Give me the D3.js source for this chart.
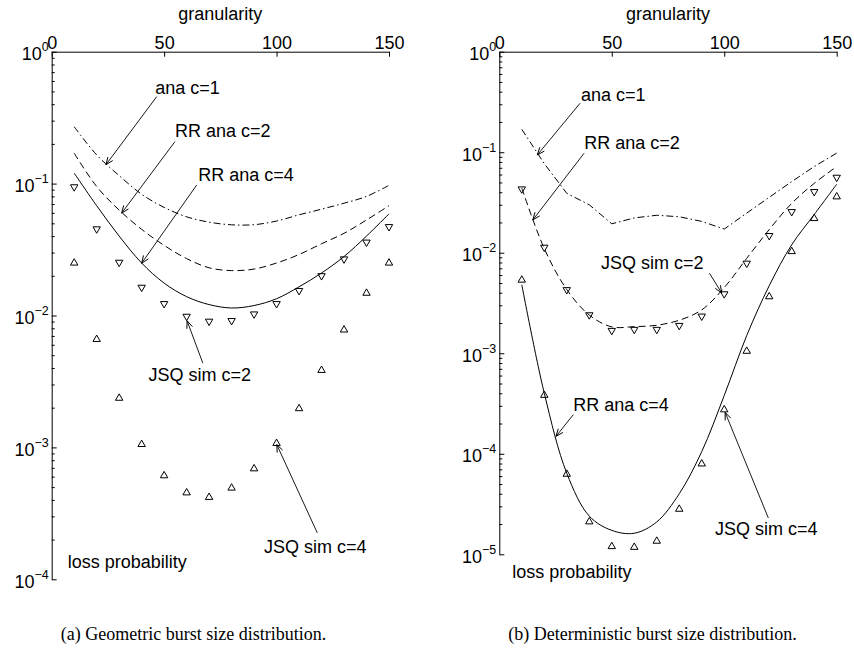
<!DOCTYPE html>
<html>
<head>
<meta charset="utf-8">
<script src="https://cdnjs.cloudflare.com/ajax/libs/d3/7.8.5/d3.min.js"></script>
<style>
body { margin: 0; background: #fff; }
svg text { font-family: "Liberation Sans", Arial, sans-serif; fill: #000; }
</style>
</head>
<body>
<svg id="chart" width="854" height="650"></svg>
<script>
// granularity values shared by every series
var granularity = [10, 20, 30, 40, 50, 60, 70, 80, 90, 100, 110, 120, 130, 140, 150];
var xTicks = [0, 50, 100, 150];

// (a) geometric burst size distribution
var geoAnaC1   = [0.27, 0.165, 0.115, 0.083, 0.066, 0.056, 0.051, 0.0487, 0.0488, 0.052, 0.058, 0.064, 0.071, 0.080, 0.097];
var geoRRAnaC2 = [0.17, 0.095, 0.063, 0.045, 0.034, 0.027, 0.023, 0.0219, 0.0225, 0.025, 0.029, 0.035, 0.042, 0.053, 0.068];
var geoRRAnaC4 = [0.12, 0.068, 0.040, 0.025, 0.0176, 0.0139, 0.0121, 0.0114, 0.0119, 0.0134, 0.0165, 0.021, 0.028, 0.040, 0.059];
var geoJSQSimC2 = [0.093, 0.0446, 0.0249, 0.0161, 0.0121, 0.0097, 0.0089, 0.0090, 0.0101, 0.0121, 0.0152, 0.0197, 0.0264, 0.0354, 0.0464];
var geoJSQSimC4 = [0.0254, 0.0067, 0.0024, 0.00107, 0.00062, 0.00046, 0.000425, 0.0005, 0.0007, 0.00109, 0.0020, 0.0039, 0.0079, 0.015, 0.0254];

// (b) deterministic burst size distribution
var detAnaC1   = [0.169, 0.077, 0.039, 0.030, 0.0194, 0.0222, 0.0236, 0.0228, 0.0205, 0.0172, 0.0248, 0.0356, 0.051, 0.072, 0.098];
var detRRAnaC2 = [0.044, 0.011, 0.0043, 0.0024, 0.00183, 0.00184, 0.0019, 0.00213, 0.0027, 0.0045, 0.0088, 0.017, 0.031, 0.049, 0.072];
var detRRAnaC4 = [0.0048, 0.0004, 6.4e-5, 2.4e-5, 1.73e-5, 1.62e-5, 2.1e-5, 4.0e-5, 1.05e-4, 3.8e-4, 0.0015, 0.0047, 0.012, 0.024, 0.048];
var detJSQSimC2 = [0.0422, 0.0111, 0.0042, 0.00236, 0.00165, 0.00169, 0.00169, 0.00185, 0.00229, 0.00382, 0.0077, 0.0145, 0.0251, 0.0397, 0.0551];
var detJSQSimC4 = [0.00546, 0.00039, 6.4e-5, 2.15e-5, 1.22e-5, 1.2e-5, 1.38e-5, 2.87e-5, 8.1e-5, 2.8e-4, 0.00107, 0.00373, 0.0105, 0.0224, 0.0368];

// annotation labels: [text, textX, textY, arrowFromX, arrowFromY, arrowToX, arrowToY] in data units
var geoNotes = [
    ['ana c=1',     46.0, 0.53,    46.7, 0.456,   24.1, 0.139],
    ['RR ana c=2',  54.8, 0.251,   54.8, 0.208,   31.1, 0.0597],
    ['RR ana c=4',  65.2, 0.116,   64.5, 0.0977,  40.0, 0.0249],
    ['JSQ sim c=2', 43.0, 0.00356, 67.2, 0.00436, 60.2, 0.00912],
    ['JSQ sim c=4', 94.4, 1.78e-4, 118.1, 2.25e-4, 100.1, 1.05e-3]
];
var detNotes = [
    ['ana c=1',     36.3, 0.377,   35.9, 0.307,   16.9, 0.094],
    ['RR ana c=2',  37.8, 0.123,   37.7, 0.0977,  14.9, 0.0212],
    ['JSQ sim c=2', 45.2, 0.00788, 93.4, 0.00627, 98.9, 0.00397],
    ['RR ana c=4',  32.9, 3.08e-4, 32.9, 2.45e-4, 25.2, 1.49e-4],
    ['JSQ sim c=4', 95.9, 1.79e-5, 119.6, 2.3e-5, 100.4, 2.58e-4]
];

var svg = d3.select('#chart');

function zip(vals) {
    return granularity.map(function(g, i) { return [g, vals[i]]; });
}

function drawPanel(p) {
    var x = d3.scaleLinear().domain([0, 150]).range([p.left, p.right]);
    var y = d3.scaleLog().domain([1, p.yMin]).range([p.top, p.bottom]);
    var g = svg.append('g');

    // top x axis, ticks pointing inward
    var xAxis = d3.axisTop(x).tickValues(xTicks).tickSizeInner(-5).tickSizeOuter(0).tickPadding(2.5);
    var gx = g.append('g').attr('transform', 'translate(0,' + p.top + ')').call(xAxis);
    gx.selectAll('text').style('font-size', '18px').style('font-family', '"Liberation Sans", Arial, sans-serif');

    // left y axis, decades + minor ticks
    var decades = [];
    var minor = [];
    var lo = Math.round(Math.log10(p.yMin));
    for (var k = 0; k >= lo; k--) {
        decades.push(Math.pow(10, k));
        if (k > lo) {
            for (var m = 2; m <= 9; m++) minor.push(m * Math.pow(10, k - 1));
        }
    }
    var yAxis = d3.axisLeft(y).tickValues(decades).tickSizeInner(-5).tickSizeOuter(0).tickFormat(function() { return ''; });
    g.append('g').attr('transform', 'translate(' + p.left + ',0)').call(yAxis);
    var yMinor = d3.axisLeft(y).tickValues(minor).tickSizeInner(-3).tickSizeOuter(0).tickFormat(function() { return ''; });
    var gm = g.append('g').attr('transform', 'translate(' + p.left + ',0)').call(yMinor);
    gm.select('.domain').remove();
    g.selectAll('.domain, .tick line').attr('stroke', '#000').attr('stroke-width', 1);

    decades.forEach(function(v) {
        var k = Math.round(Math.log10(v));
        var t = g.append('text')
            .attr('x', p.left - 3)
            .attr('y', y(v) + 8.4)
            .attr('text-anchor', 'end')
            .style('font-size', '18px');
        t.append('tspan').text('10');
        t.append('tspan').attr('dy', -9).style('font-size', '12.5px').text(k === 0 ? '0' : '\u2212' + (-k));
    });

    // axis titles
    g.append('text')
        .attr('x', x(75)).attr('y', 19.5)
        .attr('text-anchor', 'middle')
        .style('font-size', '18px')
        .text('granularity');
    g.append('text')
        .attr('x', x(p.lossLabel[0])).attr('y', y(p.lossLabel[1]))
        .attr('dy', '0.35em')
        .style('font-size', '18px')
        .text('loss probability');

    // curves
    var smooth = d3.line().x(function(d) { return x(d[0]); }).y(function(d) { return y(d[1]); }).curve(d3.curveCatmullRom.alpha(0.5));
    var straight = d3.line().x(function(d) { return x(d[0]); }).y(function(d) { return y(d[1]); });

    p.curves.forEach(function(c) {
        g.append('path')
            .datum(zip(c.values))
            .attr('d', c.linear ? straight : smooth)
            .attr('fill', 'none')
            .attr('stroke', '#000')
            .attr('stroke-width', 1)
            .attr('stroke-dasharray', c.dash || null);
    });

    // simulation markers
    var downTri = 'M-3.7,-3L3.7,-3L0,3.4Z';
    var upTri = 'M-3.7,3L3.7,3L0,-3.4Z';
    p.markers.forEach(function(mk) {
        g.selectAll(null)
            .data(zip(mk.values))
            .enter().append('path')
            .attr('transform', function(d) { return 'translate(' + x(d[0]) + ',' + y(d[1]) + ')'; })
            .attr('d', mk.up ? upTri : downTri)
            .attr('fill', 'none')
            .attr('stroke', '#000')
            .attr('stroke-width', 1);
    });

    // annotations with arrows
    p.notes.forEach(function(n) {
        g.append('text')
            .attr('x', x(n[1])).attr('y', y(n[2]))
            .attr('dy', '0.35em')
            .style('font-size', '18px')
            .text(n[0]);
        var x0 = x(n[3]), y0 = y(n[4]), x1 = x(n[5]), y1 = y(n[6]);
        g.append('line')
            .attr('x1', x0).attr('y1', y0).attr('x2', x1).attr('y2', y1)
            .attr('stroke', '#000').attr('stroke-width', 0.9);
        var ang = Math.atan2(y1 - y0, x1 - x0);
        var len = 8, spread = 0.38;
        var ax = x1 - len * Math.cos(ang - spread), ay = y1 - len * Math.sin(ang - spread);
        var bx = x1 - len * Math.cos(ang + spread), by = y1 - len * Math.sin(ang + spread);
        g.append('path')
            .attr('d', 'M' + ax + ',' + ay + 'L' + x1 + ',' + y1 + 'L' + bx + ',' + by)
            .attr('fill', 'none').attr('stroke', '#000').attr('stroke-width', 1);
    });

    svg.append('text')
        .attr('x', p.captionX).attr('y', 640)
        .attr('text-anchor', 'middle')
        .style('font-size', '18px')
        .style('font-family', '"Liberation Serif", "Times New Roman", serif')
        .text(p.caption);
}

var dashDot = '7,3,1.5,3';
var dashed = '7,4';

drawPanel({
    left: 51.7, right: 389, top: 51.7, bottom: 579.3, yMin: 1e-4,
    lossLabel: [7.1, 1.37e-4],
    curves: [
        { values: geoAnaC1, dash: dashDot },
        { values: geoRRAnaC2, dash: dashed },
        { values: geoRRAnaC4 }
    ],
    markers: [
        { values: geoJSQSimC2, up: false },
        { values: geoJSQSimC4, up: true }
    ],
    notes: geoNotes,
    captionX: 193.5,
    caption: '(a)  Geometric burst size distribution.'
});

drawPanel({
    left: 499.3, right: 836.7, top: 51.7, bottom: 554.3, yMin: 1e-5,
    lossLabel: [5.8, 6.78e-6],
    curves: [
        { values: detAnaC1, dash: dashDot, linear: true },
        { values: detRRAnaC2, dash: dashed },
        { values: detRRAnaC4 }
    ],
    markers: [
        { values: detJSQSimC2, up: false },
        { values: detJSQSimC4, up: true }
    ],
    notes: detNotes,
    captionX: 652.5,
    caption: '(b)  Deterministic burst size distribution.'
});
</script>
</body>
</html>
